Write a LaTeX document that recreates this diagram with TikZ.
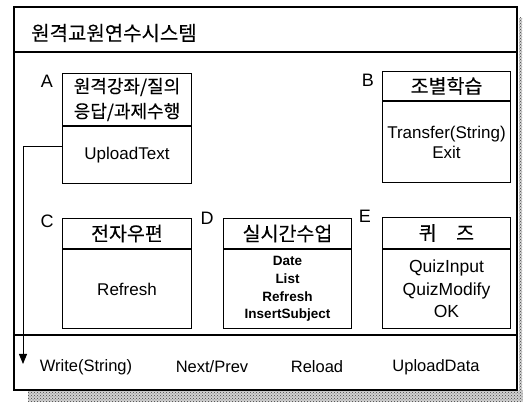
\documentclass[tikz,border=0pt]{standalone}
\usepackage{fontspec}
\setmainfont{Liberation Sans}
\newfontfamily\kr[FakeBold=0.25]{Noto Sans CJK KR}
\usetikzlibrary{arrows.meta,positioning,patterns}
\begin{document}
\begin{tikzpicture}[x=1pt,y=-1pt,
  frameline/.style={line width=1.5pt},
  boxhead/.style={draw,line width=1pt,anchor=north west,inner sep=0pt,align=center,font=\kr\fontsize{19.5}{25}\selectfont},
  boxbody/.style={draw,line width=1pt,anchor=north,inner sep=0pt,align=center,font=\fontsize{17}{20}\selectfont},
  letter/.style={font=\fontsize{18}{18}\selectfont,inner sep=0pt},
  method/.style={font=\fontsize{16.5}{18}\selectfont,inner sep=0pt},
  flow/.style={line width=1pt,-{Triangle[length=10pt,width=8pt]}},
  shade/.style={pattern=crosshatch dots,pattern color=black!75}
]
\useasboundingbox (0,0) rectangle (523,403);

% scanner shadow along the lower and right edges
\fill[black!18] (28,391) rectangle (523,402);
\fill[shade] (28,391) rectangle (523,402);
\fill[black!18] (519,18) rectangle (522,391);
\fill[shade] (519,18) rectangle (522,391);

% outer frame: title band, body, method band
\draw[frameline] (14,7) rectangle (517,390);
\draw[frameline] (14,52) -- (517,52);
\draw[frameline] (14,335) -- (517,335);
\node[anchor=west,inner sep=0pt,font=\kr\fontsize{20}{22}\selectfont] (sys) at (31,33) {원격교원연수시스템};

% box A
\node[boxhead,minimum width=129pt,minimum height=52pt,font=\kr\fontsize{18}{25}\selectfont] (At) at (62,73) {원격강좌/질의\\응답/과제수행};
\node[boxbody,minimum width=129pt,minimum height=57pt] (Ab) at (At.south) {UploadText};
\node[letter] (la) at (47,81) {A};

% box B
\node[boxhead,minimum width=128pt,minimum height=29pt] (Bt) at (382,71) {조별학습};
\node[boxbody,minimum width=128pt,minimum height=81pt] (Bb) at (Bt.south) {Transfer(String)\\Exit};
\node[letter] (lb) at (368,80) {B};

% box C
\node[boxhead,minimum width=129pt,minimum height=30pt] (Ct) at (62,218) {전자우편};
\node[boxbody,minimum width=129pt,minimum height=79pt] (Cb) at (Ct.south) {Refresh};
\node[letter] (lc) at (47,221) {C};

% box D
\node[boxhead,minimum width=128pt,minimum height=30pt] (Dt) at (223,218) {실시간수업};
\node[boxbody,minimum width=128pt,minimum height=79pt,font=\bfseries\fontsize{13.5}{17.7}\selectfont] (Db) at (Dt.south) {Date\\List\\Refresh\\InsertSubject};
\node[letter] (ld) at (207,218) {D};

% box E
\node[boxhead,minimum width=128pt,minimum height=31pt] (Et) at (382,217) {퀴\hspace{1em}즈};
\node[boxbody,minimum width=128pt,minimum height=79pt,font=\fontsize{17.5}{22.5}\selectfont] (Eb) at (Et.south) {QuizInput\\QuizModify\\OK};
\node[letter] (le) at (365,216) {E};

% common methods
\node[method] (m1) at (86,367) {Write(String)};
\node[method] (m2) at (212,367) {Next/Prev};
\node[method] (m3) at (317,367) {Reload};
\node[method] (m4) at (436,367) {UploadData};

% link from UploadText down to the method band
\coordinate (tap) at ([yshift=8.5pt]Ab.west);
\coordinate (drop) at (23,364);
\draw[flow] (tap) -| (drop);
\end{tikzpicture}
\end{document}
